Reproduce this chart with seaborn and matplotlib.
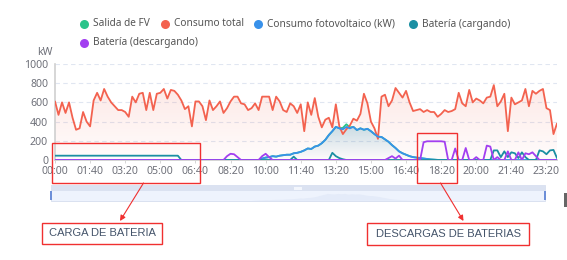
import numpy as np
import pandas as pd
import seaborn as sns
import matplotlib
matplotlib.use("Agg")
import matplotlib.pyplot as plt
from matplotlib.patches import Rectangle, FancyArrowPatch, PathPatch
from matplotlib.lines import Line2D
from matplotlib.colors import to_rgb

# ---------------- data (10-minute steps, 00:00 .. 23:50) ----------------
times = [f"{h:02d}:{m:02d}" for h in range(24) for m in range(0, 60, 10)]
tick_labels = ["00:00", "01:40", "03:20", "05:00", "06:40", "08:20", "10:00", "11:40",
               "13:20", "15:00", "16:40", "18:20", "20:00", "21:40", "23:20"]

consumo_total = [
    610, 470, 600, 490, 600, 440, 315, 330, 500, 400, 350, 620, 700, 620, 740, 660,
    600, 560, 520, 520, 500, 450, 660, 600, 690, 700, 520, 700, 520, 690, 700, 740,
    640, 730, 720, 680, 620, 530, 560, 350, 610, 610, 560, 415, 620, 520, 560, 610,
    490, 540, 610, 660, 660, 590, 580, 520, 540, 590, 520, 660, 660, 660, 520, 660,
    610, 520, 500, 590, 560, 490, 580, 300, 600, 470, 645, 450, 340, 420, 440, 340,
    580, 350, 270, 320, 360, 430, 410, 480, 690, 590, 400, 330, 220, 660, 680, 560,
    620, 750, 700, 650, 720, 600, 510, 520, 530, 500, 520, 500, 500, 450, 480, 520,
    500, 510, 530, 700, 590, 560, 730, 600, 640, 620, 590, 650, 660, 780, 560, 610,
    690, 300, 650, 580, 600, 620, 740, 560, 720, 690, 720, 740, 540, 520, 270, 380]

consumo_fv = [0] * 59 + [
    15, 25, 30, 40, 35, 45, 50, 55, 55, 70, 75, 85, 100, 120, 115, 140,
    150, 175, 210, 260, 300, 345, 330, 320, 345, 330, 345, 312, 330, 315, 325, 300,
    270, 243, 240, 215, 190, 155, 125, 90, 70, 55, 40, 30, 25, 20, 15, 10,
    6, 3, 1] + [0] * 34

salida_fv = list(consumo_fv)
salida_fv[82] = 335
salida_fv[83] = 372
salida_fv[84] = 340

bateria_carga = [45] * 36 + [0] * 108
for i, v in {68: 35, 79: 75, 80: 40, 81: 20, 82: 8, 125: 100, 126: 100, 127: 30,
             128: 90, 129: 30, 130: 80, 131: 70, 132: 20, 133: 80, 134: 30,
             138: 100, 139: 90, 140: 60, 141: 100, 142: 105, 143: 20}.items():
    bateria_carga[i] = v

bateria_descarga = [0] * 144
for i, v in {49: 40, 50: 65, 51: 60, 52: 30, 59: 40, 60: 65, 61: 30,
             95: 20, 96: 40, 97: 15, 98: 45,
             105: 185, 106: 195, 107: 195, 108: 195, 109: 195, 110: 195, 111: 190,
             114: 120, 117: 125, 120: 30, 123: 150, 124: 140, 126: 30,
             129: 90, 132: 80, 134: 70, 135: 60, 136: 80, 137: 40}.items():
    bateria_descarga[i] = v

idx = np.arange(len(times))
df = pd.DataFrame({"t": idx, "salida": salida_fv, "total": consumo_total,
                   "fv": consumo_fv, "carga": bateria_carga, "descarga": bateria_descarga})

C_GREEN = "#2bc48a"
C_RED = "#f3624f"
C_BLUE = "#3891ea"
C_TEAL = "#1b8fa3"
C_PURPLE = "#a23ff0"
AX_TXT = "#6e7079"

# ---------------- figure ----------------
sns.set_theme(style="white")
plt.rcParams["font.family"] = ["Noto Sans", "DejaVu Sans"]

W, H = 567, 260
def fx(p): return p / W
def fy(p): return 1 - p / H

fig = plt.figure(figsize=(W / 100, H / 100), dpi=100)
ax = fig.add_axes([fx(55), fy(160), fx(557) - fx(55), (160 - 64) / H])


def grad_fill(ax, x, y, color, a_top, a_bot, ytop, z):
    coll = ax.fill_between(x, y, 0, facecolor="none", edgecolor="none")
    path = coll.get_paths()[0]
    patch = PathPatch(path, transform=ax.transData, facecolor="none", edgecolor="none")
    ax.add_patch(patch)
    n = 256
    img = np.zeros((n, 1, 4))
    img[..., :3] = to_rgb(color)
    img[:, 0, 3] = np.linspace(a_bot, a_top, n)
    im = ax.imshow(img, aspect="auto", extent=[x[0], x[-1], 0, ytop], origin="lower",
                   zorder=z, interpolation="bilinear")
    im.set_clip_path(patch)


grad_fill(ax, idx, np.array(consumo_total, float), C_RED, 0.15, 0.02, 820, 1)
grad_fill(ax, idx, np.array(consumo_fv, float), "#3f9dc0", 0.28, 0.0, 360, 1.5)

sns.lineplot(data=df, x="t", y="salida", ax=ax, color=C_GREEN, lw=1.3, zorder=2, legend=False)
sns.lineplot(data=df, x="t", y="total", ax=ax, color=C_RED, lw=1.3, zorder=3, legend=False)
sns.lineplot(data=df, x="t", y="fv", ax=ax, color=C_BLUE, lw=1.3, zorder=4, legend=False)
sns.lineplot(data=df, x="t", y="carga", ax=ax, color=C_TEAL, lw=1.3, zorder=5, legend=False)
sns.lineplot(data=df, x="t", y="descarga", ax=ax, color=C_PURPLE, lw=1.3, zorder=6, legend=False)

ax.set_xlim(0, len(times) - 1)
ax.set_ylim(0, 1000)
ax.set_yticks(range(0, 1001, 200))
ax.set_xticks(range(0, 141, 10))
ax.set_xticklabels(tick_labels)
ax.set_xlabel("")
ax.set_ylabel("")
ax.grid(axis="y", ls=(0, (4, 3)), color="#e0e6f1", lw=0.8)
ax.grid(axis="x", visible=False)
for s in ["top", "right"]:
    ax.spines[s].set_visible(False)
ax.spines["left"].set_color("#cfcfcf")
ax.spines["left"].set_linewidth(1.2)
ax.spines["bottom"].set_color("#cfcfcf")
ax.tick_params(axis="y", length=0, pad=5, labelsize=7.6, labelcolor=AX_TXT)
ax.tick_params(axis="x", length=2.5, width=0.6, color="#cfcfcf", pad=1.5,
               labelsize=7.6, labelcolor=AX_TXT, bottom=True)
ax.set_facecolor("white")

fig.text(fx(45), fy(53), "kW", ha="center", va="center", fontsize=7.6, color=AX_TXT)

# ---------------- legend (echarts-style flowing rows) ----------------
legend_items = [
    ("Salida de FV", C_GREEN, 84, 24),
    ("Consumo total", C_RED, 165, 24),
    ("Consumo fotovoltaico (kW)", C_BLUE, 258, 24),
    ("Batería (cargando)", C_TEAL, 413, 24),
    ("Batería (descargando)", C_PURPLE, 84, 43),
]
for label, col, px, py in legend_items:
    fig.add_artist(Line2D([fx(px)], [fy(py)], marker="o", markersize=6.5, color=col,
                          markeredgewidth=0, transform=fig.transFigure))
    fig.text(fx(px + 9), fy(py), label, ha="left", va="center", fontsize=7.3, color="#555555")

# ---------------- data zoom slider ----------------
sax = fig.add_axes([fx(51), fy(201), fx(545) - fx(51), (201 - 185) / H])
sax.set_xlim(0, len(times) - 1)
sax.set_ylim(0, 1)
sax.axis("off")
sax.add_patch(Rectangle((0, 0), 1, 1, transform=sax.transAxes, facecolor="#eef3fd",
                        edgecolor="#d5ddee", lw=0.6, clip_on=False))
sax.add_patch(Rectangle((0, 10 / 16), 1, 6 / 16, transform=sax.transAxes,
                        facecolor="#dbe2f1", edgecolor="none", clip_on=False))
sax.fill_between(idx, 0.04, 0.04 + np.array(consumo_fv) / 360 * 0.45,
                 color="#e4ebf9", lw=0)
sax.add_patch(Rectangle((0.492, 11.5 / 16), 0.016, 3 / 16, transform=sax.transAxes,
                        facecolor="#f3f6fc", edgecolor="none", clip_on=False))
for xa in (-0.003, 0.997):
    sax.add_patch(Rectangle((xa, 0.05), 0.006, 9 / 16, transform=sax.transAxes,
                            facecolor="#6d8fd8", edgecolor="none", clip_on=False))

fig.add_artist(Rectangle((fx(564), fy(207)), 3 / W, 14 / H, transform=fig.transFigure,
                         facecolor="#666666", edgecolor="none"))

# ---------------- annotations ----------------
RED_ANN = "#f03030"
def fig_rect(x0, y0, x1, y1, fill=False):
    fig.add_artist(Rectangle((fx(x0), fy(y1)), (x1 - x0) / W, (y1 - y0) / H,
                             transform=fig.transFigure, fill=fill,
                             facecolor="white", edgecolor=RED_ANN, lw=1.0, zorder=20))

fig_rect(52, 143, 200, 183)
fig_rect(417, 133, 457, 183)
fig_rect(42, 223, 162, 244, fill=True)
fig_rect(367, 223, 529, 245, fill=True)

for (x0, y0, x1, y1) in [(143.5, 183, 120, 221), (440.5, 183, 463.5, 221)]:
    fig.add_artist(FancyArrowPatch((fx(x0), fy(y0)), (fx(x1), fy(y1)),
                                   transform=fig.transFigure, arrowstyle="-|>",
                                   mutation_scale=8, color=RED_ANN, lw=0.8,
                                   shrinkA=0, shrinkB=0, zorder=21))

fig.text(fx(102), fy(233.5), "CARGA DE BATERIA", ha="center", va="center",
         fontsize=8, color="#44546a", family=["Liberation Sans", "DejaVu Sans"], zorder=22)
fig.text(fx(448), fy(234), "DESCARGAS DE BATERIAS", ha="center", va="center",
         fontsize=8, color="#44546a", family=["Liberation Sans", "DejaVu Sans"], zorder=22)

fig.savefig("out.png", dpi=100)
